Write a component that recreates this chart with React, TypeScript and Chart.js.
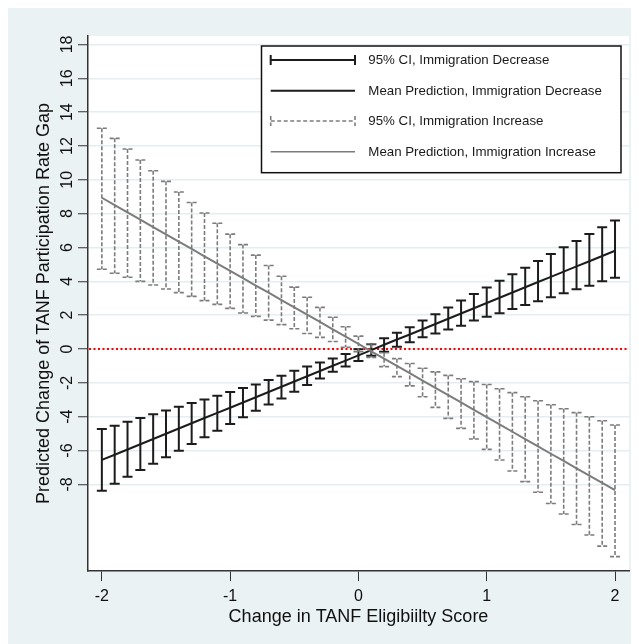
import React, { useEffect, useRef } from "react";
import { Chart, registerables } from "chart.js";

Chart.register(...registerables);

// ---------------- data ----------------
const xValues = [
  -2.0, -1.9, -1.8, -1.7, -1.6, -1.5, -1.4, -1.3, -1.2, -1.1, -1.0, -0.9, -0.8, -0.7, -0.6, -0.5, -0.4, -0.3, -0.2, -0.1,
  0.0, 0.1, 0.2, 0.3, 0.4, 0.5, 0.6, 0.7, 0.8, 0.9, 1.0, 1.1, 1.2, 1.3, 1.4, 1.5, 1.6, 1.7, 1.8, 1.9, 2.0,
];

const decreaseMean = [
  -6.55, -6.25, -5.94, -5.63, -5.32, -5.01, -4.7, -4.39, -4.08, -3.77, -3.47, -3.16, -2.85, -2.54, -2.23, -1.92, -1.61, -1.3, -0.99, -0.69,
  -0.38, -0.07, 0.25, 0.56, 0.86, 1.17, 1.48, 1.79, 2.1, 2.41, 2.72, 3.03, 3.34, 3.65, 3.96, 4.26, 4.57, 4.88, 5.19, 5.5, 5.81,
];
const decreaseLow = [
  -8.37, -7.96, -7.55, -7.15, -6.78, -6.4, -6.01, -5.61, -5.22, -4.83, -4.43, -4.04, -3.65, -3.28, -2.92, -2.52, -2.13, -1.74, -1.34, -1.04,
  -0.71, -0.4, -0.16, 0.14, 0.4, 0.7, 0.92, 1.16, 1.38, 1.68, 1.91, 2.11, 2.36, 2.6, 2.82, 3.06, 3.29, 3.53, 3.74, 4.0, 4.21,
];
const decreaseHigh = [
  -4.73, -4.53, -4.3, -4.08, -3.86, -3.64, -3.41, -3.19, -2.98, -2.76, -2.54, -2.3, -2.09, -1.83, -1.58, -1.28, -1.04, -0.8, -0.56, -0.3,
  -0.02, 0.28, 0.64, 0.96, 1.28, 1.68, 2.05, 2.46, 2.86, 3.25, 3.64, 4.04, 4.42, 4.81, 5.2, 5.61, 6.01, 6.39, 6.8, 7.19, 7.59,
];

const increaseMean = [
  8.94, 8.51, 8.07, 7.65, 7.21, 6.78, 6.35, 5.92, 5.48, 5.05, 4.62, 4.19, 3.75, 3.33, 2.89, 2.46, 2.03, 1.6, 1.16, 0.73,
  0.3, -0.14, -0.57, -1.0, -1.43, -1.87, -2.29, -2.73, -3.16, -3.59, -4.02, -4.46, -4.89, -5.32, -5.75, -6.19, -6.61, -7.05, -7.48, -7.91, -8.34,
];
const increaseLow = [
  4.71, 4.48, 4.24, 4.0, 3.78, 3.55, 3.33, 3.11, 2.86, 2.64, 2.4, 2.13, 1.93, 1.71, 1.44, 1.2, 0.92, 0.69, 0.44, 0.1,
  -0.16, -0.5, -1.04, -1.63, -2.18, -2.82, -3.45, -4.1, -4.69, -5.32, -5.93, -6.56, -7.21, -7.84, -8.47, -9.13, -9.75, -10.37, -10.99, -11.65, -12.27,
];
const increaseHigh = [
  13.05, 12.45, 11.82, 11.17, 10.54, 9.91, 9.28, 8.66, 8.04, 7.43, 6.79, 6.17, 5.55, 4.94, 4.3, 3.66, 3.06, 2.46, 1.88, 1.32,
  0.76, 0.31, -0.22, -0.57, -0.86, -1.14, -1.35, -1.56, -1.76, -1.93, -2.1, -2.35, -2.58, -2.82, -3.06, -3.29, -3.53, -3.76, -4.0, -4.24, -4.49,
];

const xTicks = [-2, -1, 0, 1, 2];
const yTicks = [-8, -6, -4, -2, 0, 2, 4, 6, 8, 10, 12, 14, 16, 18];
const xRange = [-2.108, 2.109];
const yRange = [-13.12, 18.5];
const referenceY = 0;

const legendLabels = [
  "95% CI, Immigration Decrease",
  "Mean Prediction, Immigration Decrease",
  "95% CI, Immigration Increase",
  "Mean Prediction, Immigration Increase",
];
const xTitle = "Change in TANF Eligibiilty Score";
const yTitle = "Predicted Change of TANF Participation Rate Gap";

// ---------------- styles ----------------
const FONT = '"Liberation Sans", Arial, Helvetica, sans-serif';
const BLACK = "#1c1c1c";
const GRAY = "#7c7c7c";
const AXIS = "#333333";
const GRID = "#e4edf0";
const BG = "#eaf2f3";

const ciSets: Record<string, { low: number[]; high: number[]; color: string; dashed: boolean }> = {
  dec: { low: decreaseLow, high: decreaseHigh, color: BLACK, dashed: false },
  inc: { low: increaseLow, high: increaseHigh, color: GRAY, dashed: true },
};

function drawCI(ctx: CanvasRenderingContext2D, chart: any, set: { low: number[]; high: number[]; color: string; dashed: boolean }) {
  const xs = chart.scales.x;
  const ys = chart.scales.y;
  ctx.save();
  ctx.strokeStyle = set.color;
  ctx.lineWidth = set.dashed ? 1.6 : 2;
  ctx.setLineDash(set.dashed ? [4, 2] : []);
  const cap = 5;
  for (let i = 0; i < xValues.length; i++) {
    const px = xs.getPixelForValue(xValues[i]);
    const pl = ys.getPixelForValue(set.low[i]);
    const ph = ys.getPixelForValue(set.high[i]);
    ctx.beginPath();
    ctx.moveTo(px, ph);
    ctx.lineTo(px, pl);
    ctx.moveTo(px - cap, ph);
    ctx.lineTo(px + cap, ph);
    ctx.moveTo(px - cap, pl);
    ctx.lineTo(px + cap, pl);
    ctx.stroke();
  }
  ctx.restore();
}

const stataPlugin = {
  id: "stataLook",
  beforeDraw(chart: any) {
    const { ctx, chartArea: a } = chart;
    ctx.save();
    ctx.fillStyle = "#ffffff";
    ctx.fillRect(a.left, a.top, a.right - a.left, a.bottom - a.top);
    ctx.restore();
  },
  beforeDatasetsDraw(chart: any) {
    const { ctx, chartArea: a } = chart;
    const y = chart.scales.y.getPixelForValue(referenceY);
    ctx.save();
    ctx.strokeStyle = "#ff0000";
    ctx.lineWidth = 2;
    ctx.setLineDash([2, 2.5]);
    ctx.beginPath();
    ctx.moveTo(a.left + 1, y);
    ctx.lineTo(a.right, y);
    ctx.stroke();
    ctx.restore();
  },
  beforeDatasetDraw(chart: any, args: any) {
    const ds = chart.data.datasets[args.index];
    const set = ciSets[ds.ciKey];
    if (set) drawCI(chart.ctx, chart, set);
  },
  afterDraw(chart: any) {
    const { ctx, chartArea: a } = chart;
    const ys = chart.scales.y;
    // rotated y tick labels
    ctx.save();
    ctx.fillStyle = "#111111";
    ctx.font = `16px ${FONT}`;
    ctx.textAlign = "center";
    ctx.textBaseline = "alphabetic";
    for (const v of yTicks) {
      const py = ys.getPixelForValue(v);
      ctx.save();
      ctx.translate(a.left - 16, py);
      ctx.rotate(-Math.PI / 2);
      ctx.fillText(String(v), 0, 0);
      ctx.restore();
    }
    ctx.restore();

    // legend
    const L = { left: a.left + 173.5, top: a.top + 10, right: a.right - 8, bottom: a.top + 136.7 };
    ctx.save();
    ctx.fillStyle = "#ffffff";
    ctx.fillRect(L.left, L.top, L.right - L.left, L.bottom - L.top);
    ctx.strokeStyle = "#111111";
    ctx.lineWidth = 1.5;
    ctx.strokeRect(L.left, L.top, L.right - L.left, L.bottom - L.top);
    const rows = [L.top + 14, L.top + 44.7, L.top + 75, L.top + 105.7];
    const sx0 = L.left + 9.2;
    const sx1 = L.left + 93.5;
    const tx = L.left + 106.8;
    rows.forEach((ry, i) => {
      const isGray = i >= 2;
      ctx.save();
      ctx.strokeStyle = isGray ? GRAY : BLACK;
      ctx.lineWidth = isGray ? 1.6 : 2;
      ctx.setLineDash(i === 2 ? [4, 2.5] : []);
      ctx.beginPath();
      ctx.moveTo(sx0, ry);
      ctx.lineTo(sx1, ry);
      if (i === 0 || i === 2) {
        ctx.moveTo(sx0, ry - 5);
        ctx.lineTo(sx0, ry + 5);
        ctx.moveTo(sx1, ry - 5);
        ctx.lineTo(sx1, ry + 5);
      }
      ctx.stroke();
      ctx.restore();
      ctx.fillStyle = "#1a1a1a";
      ctx.font = `13.3px ${FONT}`;
      ctx.textAlign = "left";
      ctx.textBaseline = "middle";
      ctx.fillText(legendLabels[i], tx, ry + 0.5);
    });
    ctx.restore();
  },
};

export default function App() {
  const canvasRef = useRef<HTMLCanvasElement | null>(null);

  useEffect(() => {
    if (!canvasRef.current) return;
    const toPoints = (ys: number[]) => xValues.map((x, i) => ({ x, y: ys[i] }));
    const chart = new Chart(canvasRef.current, {
      type: "line",
      data: {
        datasets: [
          {
            label: legendLabels[3],
            data: toPoints(increaseMean),
            borderColor: GRAY,
            borderWidth: 2,
            pointRadius: 0,
            tension: 0,
            order: 1,
            ciKey: "inc",
          } as any,
          {
            label: legendLabels[1],
            data: toPoints(decreaseMean),
            borderColor: BLACK,
            borderWidth: 2,
            pointRadius: 0,
            tension: 0,
            order: 2,
            ciKey: "dec",
          } as any,
        ],
      },
      options: {
        responsive: false,
        animation: false,
        devicePixelRatio: 1,
        layout: { padding: { top: 28, right: 2, left: 0, bottom: 0 } },
        plugins: { legend: { display: false }, tooltip: { enabled: false } },
        scales: {
          x: {
            type: "linear",
            min: xRange[0],
            max: xRange[1],
            afterBuildTicks: (s: any) => {
              s.ticks = xTicks.map((v) => ({ value: v }));
            },
            afterFit: (s: any) => {
              s.height = 73;
            },
            grid: { drawOnChartArea: false, tickColor: AXIS, tickWidth: 1, tickLength: 10 },
            border: { display: true, color: AXIS, width: 1.5 },
            ticks: {
              autoSkip: false,
              maxRotation: 0,
              minRotation: 0,
              padding: 6,
              color: "#111111",
              font: { family: FONT, size: 16 },
              callback: (v: any) => String(v),
            },
            title: {
              display: true,
              text: xTitle,
              color: "#111111",
              font: { family: FONT, size: 18 },
              padding: { top: 0, bottom: 16 },
            },
          },
          y: {
            type: "linear",
            min: yRange[0],
            max: yRange[1],
            afterBuildTicks: (s: any) => {
              s.ticks = yTicks.map((v) => ({ value: v }));
            },
            afterFit: (s: any) => {
              s.width = 80;
            },
            grid: { color: GRID, lineWidth: 1.5, tickColor: AXIS, tickWidth: 1, tickLength: 10 },
            border: { display: true, color: AXIS, width: 1.5 },
            ticks: { display: false },
            title: {
              display: true,
              text: yTitle,
              color: "#111111",
              font: { family: FONT, size: 18 },
              padding: { top: 25.7, bottom: 0 },
            },
          },
        },
      } as any,
      plugins: [stataPlugin as any],
    });
    return () => chart.destroy();
  }, []);

  return (
    <div style={{ width: 623, height: 636, background: BG }}>
      <canvas ref={canvasRef} width={623} height={636} style={{ display: "block" }} />
    </div>
  );
}
